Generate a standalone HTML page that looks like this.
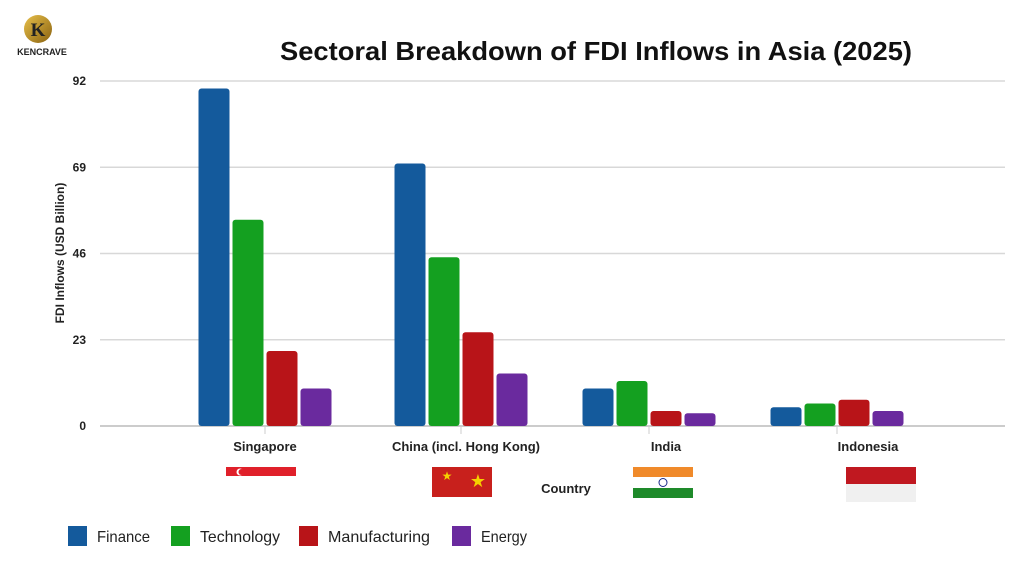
<!DOCTYPE html>
<html><head><meta charset="utf-8"><style>
body{margin:0;background:#fff;width:1024px;height:563px;overflow:hidden;font-family:"Liberation Sans",sans-serif}
svg{display:block}
</style></head><body>
<svg width="1024" height="563">
<defs>
<linearGradient id="gold" x1="0" y1="0" x2="1" y2="1"><stop offset="0" stop-color="#e8c04a"/><stop offset="1" stop-color="#8a6210"/></linearGradient>
</defs>
<g>
<circle cx="38" cy="29" r="14" fill="url(#gold)"/>
<text x="38" y="36" text-anchor="middle" font-family="Liberation Serif" font-weight="bold" font-size="19" fill="#222">K</text>
<text x="42" y="55" text-anchor="middle" font-weight="bold" font-size="9" fill="#222">KENCRAVE</text>
</g>
<text x="596" y="60" text-anchor="middle" font-weight="bold" font-size="26" textLength="632" lengthAdjust="spacingAndGlyphs" fill="#111">Sectoral Breakdown of FDI Inflows in  Asia (2025)</text>
<text transform="translate(64,253) rotate(-90)" text-anchor="middle" font-weight="bold" font-size="12" fill="#222">FDI Inflows (USD Billion)</text>
<g id="grid"></g>
<g id="bars"></g>
<g id="xlabels"></g>
<g>
<rect x="226" y="467" width="70" height="9" fill="#e0202a"/><rect x="226" y="476" width="70" height="9" fill="#fff"/>
<circle cx="240" cy="472" r="3.5" fill="#fff"/><circle cx="241.5" cy="472" r="3" fill="#e0202a"/>
<rect x="432" y="467" width="60" height="30" fill="#c8201c"/>
<text x="447" y="480" font-size="12" fill="#f5d000" text-anchor="middle">★</text>
<text x="478" y="487" font-size="18" fill="#f5d000" text-anchor="middle">★</text>
<rect x="633" y="467" width="60" height="10" fill="#f08a2a"/><rect x="633" y="477" width="60" height="11" fill="#fff"/><rect x="633" y="488" width="60" height="10" fill="#1e8a2a"/>
<circle cx="663" cy="482.5" r="4" fill="none" stroke="#1a2a8a" stroke-width="1"/>
<rect x="846" y="467" width="70" height="17" fill="#c01820"/><rect x="846" y="484" width="70" height="18" fill="#f0f0f0"/>
</g>
<text x="566" y="493" text-anchor="middle" font-weight="bold" font-size="13" fill="#222">Country</text>
<g id="legend"></g>
</svg>
<script>
const categories=["Singapore","China (incl. Hong Kong)","India","Indonesia"];
const series=["Finance","Technology","Manufacturing","Energy"];
const finance=[90,70,10,5];
const technology=[55,45,12,6];
const manufacturing=[20,25,4,7];
const energy=[10,14,3.4,4];
const yTicks=[0,23,46,69,92];
const colors=["#145a9c","#14a020","#b81418","#6a2a9e"];
const values=[finance,technology,manufacturing,energy];
const NS="http://www.w3.org/2000/svg";
const y0=426,y1=81,yMax=92,xL=100,xR=1005;
const y=v=>y0-(v/yMax)*(y0-y1);
const centers=[265,461,649,837];
const labelOff=[0,5,17,31];
const bw=31,step=34;
function mk(t,a,p){const e=document.createElementNS(NS,t);for(const k in a)e.setAttribute(k,a[k]);p.appendChild(e);return e;}
const grid=document.getElementById('grid');
yTicks.forEach(t=>{
 const l=mk('line',{x1:xL,x2:xR,y1:y(t),y2:y(t),stroke:t===0?'#bbb':'#d8d8d8','stroke-width':1.5},grid);
 
 
 const tx=mk('text',{x:86,y:y(t)+4,'text-anchor':'end','font-size':12,'font-weight':'bold',fill:'#222'},grid);
 tx.textContent=t;
 
 
});
const bars=document.getElementById('bars');
const xl=document.getElementById('xlabels');
categories.forEach((c,i)=>{
 const tk=mk('line',{x1:centers[i],x2:centers[i],y1:y0,y2:y0+8,stroke:'#ccc','stroke-width':1},xl);
 
 
 values.forEach((s,j)=>{
  const x=centers[i]-2*step+j*step+(step-bw)/2;
  const r=mk('rect',{x:x,y:y(s[i]),width:bw,height:y0-y(s[i]),rx:3,fill:colors[j]},bars);
  
  
 });
 const t=mk('text',{x:centers[i]+labelOff[i],y:451,'text-anchor':'middle','font-size':13,'font-weight':'bold',fill:'#222'},xl);
 t.textContent=c;
 
 
});
const lg=document.getElementById('legend');
const lx=[68,171,299,452];
const lw=[53,80,102,46];
series.forEach((s,j)=>{
 const g=mk('g',{},lg);
 
 
 mk('rect',{x:lx[j],y:526,width:19,height:20,fill:colors[j]},g);
 const t=mk('text',{x:lx[j]+29,y:542,'font-size':16,fill:'#222',textLength:lw[j],lengthAdjust:'spacingAndGlyphs'},g);
 t.textContent=s;
});
</script>
</body></html>
